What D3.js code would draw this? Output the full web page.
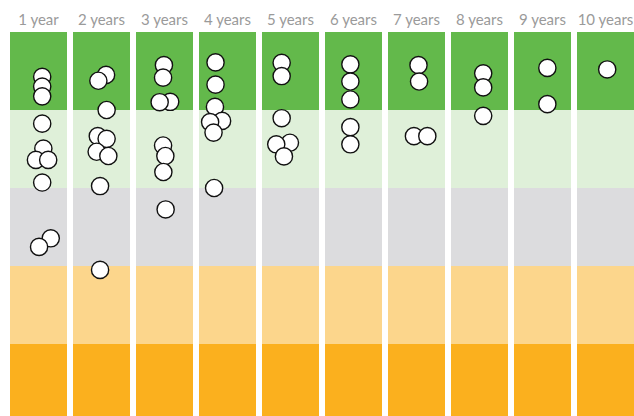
<!DOCTYPE html>
<html>
<head>
<meta charset="utf-8">
<script src="https://cdn.jsdelivr.net/npm/d3@7"></script>
<style>
  html, body { margin: 0; padding: 0; background: #fff; }
  svg { display: block; }
</style>
</head>
<body>
<div id="root"></div>
<script>
// columns (holding period)
const periods = ["1 year", "2 years", "3 years", "4 years", "5 years",
                 "6 years", "7 years", "8 years", "9 years", "10 years"];

// score bands, top to bottom (score 100 at top, 0 at bottom)
const bandEdges = [100, 80, 60, 40, 20, 0];
const bandColors = ["#63b94b", "#dff0d9", "#dcdcde", "#fcd68c", "#fbb01e"];

// one array of scores per column
const scores = [
  [88.5, 86.0, 83.5, 76.5, 70.1, 67.2, 67.2, 61.4, 47.1, 44.9],
  [89.0, 87.5, 80.0, 73.3, 72.6, 69.3, 68.2, 60.5, 39.0],
  [91.5, 88.3, 82.1, 82.0, 70.9, 68.2, 64.1, 54.5],
  [92.2, 86.5, 80.8, 77.2, 76.9, 74.2, 60.0],
  [92.1, 88.7, 77.9, 71.6, 71.2, 68.1],
  [91.7, 87.3, 82.7, 75.6, 71.2],
  [91.5, 87.3, 73.3, 73.3],
  [89.4, 85.8, 78.5],
  [90.8, 81.5],
  [90.4]
];

// horizontal jitter per point, -1 .. 1 across the column
const jitter = [
  [0.13, 0.13, 0.13, 0.13, 0.17, -0.09, 0.34, 0.13, 0.43, 0.02],
  [0.16, -0.11, 0.18, -0.13, 0.18, -0.17, 0.24, -0.05, -0.05],
  [-0.02, -0.05, 0.20, -0.17, -0.05, 0.03, -0.04, 0.04],
  [-0.42, -0.42, -0.44, -0.19, -0.61, -0.49, -0.47],
  [-0.31, -0.31, -0.31, -0.02, -0.50, -0.23],
  [-0.11, -0.11, -0.11, -0.11, -0.11],
  [0.07, 0.09, -0.09, 0.38],
  [0.13, 0.13, 0.13],
  [0.17, 0.17],
  [0.06]
];

const width = 634, height = 416;

const svg = d3.select("#root")
  .append("svg")
  .attr("width", width)
  .attr("height", height);

const x = d3.scaleBand()
  .domain(periods)
  .range([10, 634])
  .paddingInner(6 / 63)
  .paddingOuter(0);

const y = d3.scaleLinear()
  .domain([100, 0])
  .range([32, 422]);

const cols = svg.selectAll("g.col")
  .data(periods)
  .join("g")
  .attr("class", "col")
  .attr("transform", d => `translate(${x(d)},0)`);

// bands
const bands = d3.range(bandColors.length).map(i => ({
  top: bandEdges[i], bottom: bandEdges[i + 1], color: bandColors[i]
}));

cols.selectAll("rect")
  .data(bands)
  .join("rect")
  .attr("x", 0)
  .attr("y", d => y(d.top))
  .attr("width", x.bandwidth())
  .attr("height", d => y(d.bottom) - y(d.top))
  .attr("fill", d => d.color);

// column labels
cols.append("text")
  .attr("x", x.bandwidth() / 2)
  .attr("y", 25)
  .attr("text-anchor", "middle")
  .attr("font-family", "Lato, 'Open Sans', sans-serif")
  .attr("font-size", 15)
  .attr("fill", "#9a9a9a")
  .text(d => d);

// dots
const jx = d3.scaleLinear().domain([-1, 1]).range([0, x.bandwidth()]);

cols.each(function (p, ci) {
  const pts = scores[ci].map((s, i) => ({ s, j: jitter[ci][i] }));
  d3.select(this).selectAll("circle")
    .data(pts)
    .join("circle")
    .attr("cx", d => jx(d.j))
    .attr("cy", d => y(d.s))
    .attr("r", 8.6)
    .attr("fill", "#fff")
    .attr("stroke", "#111")
    .attr("stroke-width", 1.4);
});
</script>
</body>
</html>
